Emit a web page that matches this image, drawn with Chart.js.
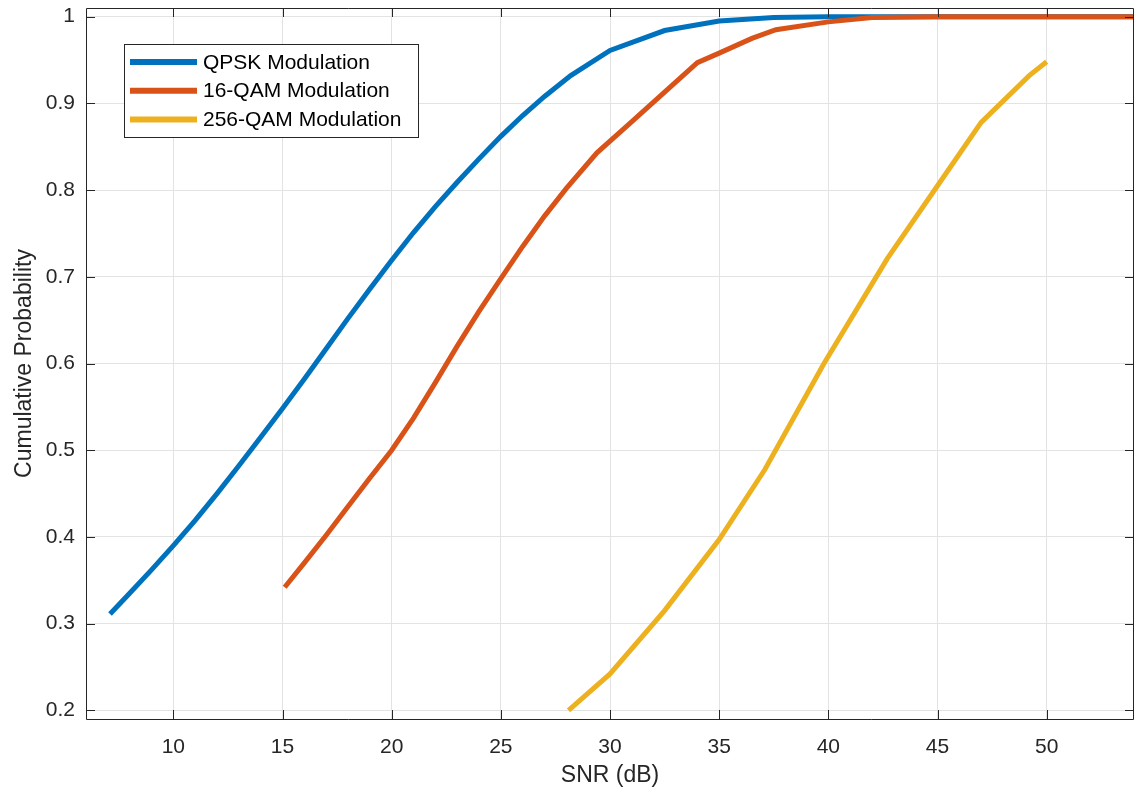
<!DOCTYPE html>
<html>
<head>
<meta charset="utf-8">
<script src="https://cdn.jsdelivr.net/npm/chart.js@4.4.0/dist/chart.umd.min.js"></script>
<style>
    html, body { margin: 0; padding: 0; background: #ffffff; }
    #wrap { width: 1135px; height: 794px; position: relative; }
</style>
</head>
<body>
<div id="wrap"><canvas id="cdfChart"></canvas></div>
<script>
// =============== DATA ===============
const qpskSnr  = [7.1, 8, 9, 10, 11, 12, 13, 14, 15, 16, 17, 18, 19, 20, 21, 22, 23, 24, 25, 26, 27, 28.2, 30, 32.5, 35, 37.5, 40, 54];
const qpskProb = [0.311, 0.335, 0.362, 0.39, 0.419, 0.45, 0.482, 0.515, 0.548, 0.582, 0.617, 0.652, 0.686, 0.719, 0.751, 0.781, 0.809, 0.836, 0.862, 0.886, 0.908, 0.932, 0.961, 0.984, 0.995, 0.999, 1, 1];

const qam16Snr  = [15.1, 16, 17, 18, 19, 20, 21, 22, 23, 24, 25, 26, 27, 28, 29.4, 31, 32.5, 34, 35, 36.5, 37.6, 40, 42, 45, 54];
const qam16Prob = [0.342, 0.37, 0.402, 0.435, 0.468, 0.5, 0.537, 0.578, 0.62, 0.66, 0.698, 0.735, 0.77, 0.802, 0.843, 0.879, 0.913, 0.947, 0.958, 0.975, 0.985, 0.994, 0.999, 1, 1];

const qam256Snr  = [28.1, 30, 32.5, 35, 37.1, 39.8, 42.7, 45, 47, 49.2, 50];
const qam256Prob = [0.2, 0.242, 0.315, 0.397, 0.478, 0.6, 0.721, 0.805, 0.878, 0.932, 0.948];

const seriesLabels = ['QPSK Modulation', '16-QAM Modulation', '256-QAM Modulation'];
const seriesColors = ['#0072BD', '#D95319', '#EDB120'];

const xTicks = [10, 15, 20, 25, 30, 35, 40, 45, 50];
const yTicks = [0.2, 0.3, 0.4, 0.5, 0.6, 0.7, 0.8, 0.9, 1];

// gabungkan x & y menjadi titik
function toPoints(xs, ys) {
    return xs.map((x, i) => ({ x: x, y: ys[i] }));
}

const axisColor = '#262626';
const gridColor = '#e3e3e3';
const fontFamily = "'Liberation Sans', Arial, sans-serif";

// =============== PLUGIN: kotak sumbu + tick ke dalam + legend ===============
const matlabBox = {
    id: 'matlabBox',
    afterDatasetsDraw(chart) {
        const ctx = chart.ctx;
        const a = chart.chartArea;
        const xs = chart.scales.x;
        const ys = chart.scales.y;
        const tl = 9;

        ctx.save();
        ctx.strokeStyle = axisColor;
        ctx.lineWidth = 1;
        ctx.beginPath();
        ctx.rect(Math.round(a.left) + 0.5, Math.round(a.top) + 0.5,
                 Math.round(a.right - a.left) - 1, Math.round(a.bottom - a.top));
        ctx.stroke();

        ctx.beginPath();
        xTicks.forEach(v => {
            const px = Math.round(xs.getPixelForValue(v)) + 0.5;
            ctx.moveTo(px, a.bottom); ctx.lineTo(px, a.bottom - tl);
            ctx.moveTo(px, a.top); ctx.lineTo(px, a.top + tl);
        });
        yTicks.forEach(v => {
            const py = Math.round(ys.getPixelForValue(v)) + 0.5;
            ctx.moveTo(a.left, py); ctx.lineTo(a.left + tl, py);
            ctx.moveTo(a.right, py); ctx.lineTo(a.right - tl, py);
        });
        ctx.stroke();

        // legend di dalam area plot
        const lx = a.left + 38, ly = a.top + 36, lw = 294, lh = 93;
        ctx.fillStyle = '#ffffff';
        ctx.fillRect(lx, ly, lw, lh);
        ctx.strokeStyle = axisColor;
        ctx.strokeRect(lx + 0.5, ly + 0.5, lw, lh);

        ctx.font = '21px ' + fontFamily;
        ctx.textBaseline = 'middle';
        ctx.textAlign = 'left';
        chart.data.datasets.forEach((ds, i) => {
            const ry = ly + 18 + i * 28.7;
            ctx.strokeStyle = ds.borderColor;
            ctx.lineWidth = 6;
            ctx.beginPath();
            ctx.moveTo(lx + 6, ry);
            ctx.lineTo(lx + 73, ry);
            ctx.stroke();
            ctx.fillStyle = '#000000';
            ctx.fillText(ds.label, lx + 79, ry + 1);
        });
        ctx.restore();
    }
};

// =============== CHART ===============
const ctx = document.getElementById('cdfChart').getContext('2d');

const cdfChart = new Chart(ctx, {
    type: 'line',
    data: {
        datasets: [
            { label: seriesLabels[0], data: toPoints(qpskSnr, qpskProb) },
            { label: seriesLabels[1], data: toPoints(qam16Snr, qam16Prob) },
            { label: seriesLabels[2], data: toPoints(qam256Snr, qam256Prob) }
        ].map((ds, i) => Object.assign(ds, {
            borderColor: seriesColors[i],
            backgroundColor: seriesColors[i],
            borderWidth: 5,
            pointRadius: 0,
            tension: 0,
            fill: false,
            order: 3 - i // seri terakhir digambar paling atas
        }))
    },
    options: {
        responsive: true,
        maintainAspectRatio: false,
        animation: false,
        layout: { padding: { top: 8, right: 1, bottom: 0, left: 0 } },
        plugins: {
            legend: { display: false },
            tooltip: { enabled: false }
        },
        scales: {
            x: {
                type: 'linear',
                min: 6,
                max: 54,
                afterBuildTicks: s => { s.ticks = xTicks.map(v => ({ value: v })); },
                afterFit: s => { s.height = 75; s.paddingLeft = 0; s.paddingRight = 0; },
                grid: { color: gridColor, drawTicks: false, lineWidth: 1 },
                border: { display: false },
                ticks: {
                    color: axisColor,
                    padding: 16,
                    maxRotation: 0,
                    font: { family: fontFamily, size: 21 }
                },
                title: {
                    display: true,
                    text: 'SNR (dB)',
                    color: axisColor,
                    padding: 5,
                    font: { family: fontFamily, size: 23 }
                }
            },
            y: {
                type: 'linear',
                min: 0.19,
                max: 1.01,
                afterBuildTicks: s => { s.ticks = yTicks.map(v => ({ value: v })); },
                afterFit: s => { s.width = 86; s.paddingTop = 0; s.paddingBottom = 0; },
                grid: { color: gridColor, drawTicks: false, lineWidth: 1 },
                border: { display: false },
                ticks: {
                    color: axisColor,
                    padding: 11,
                    font: { family: fontFamily, size: 21 },
                    callback: v => String(v)
                },
                title: {
                    display: true,
                    text: 'Cumulative Probability',
                    color: axisColor,
                    padding: 11,
                    font: { family: fontFamily, size: 23 }
                }
            }
        }
    },
    plugins: [matlabBox]
});
</script>
</body>
</html>
